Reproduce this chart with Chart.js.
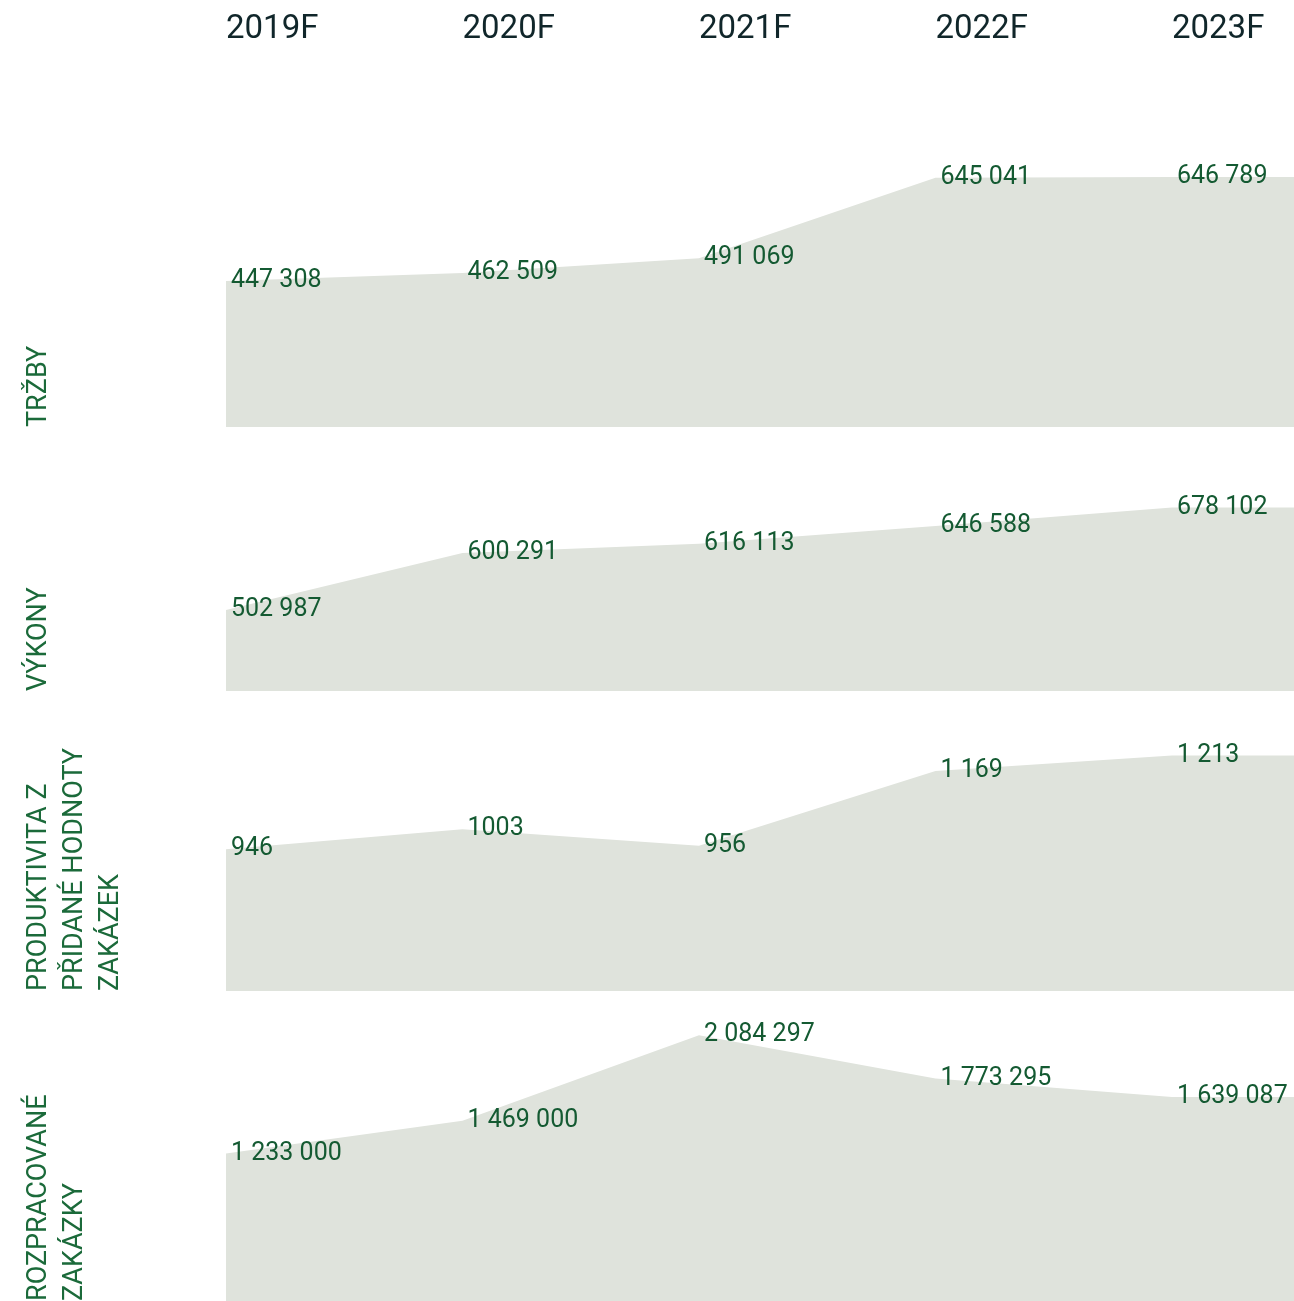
<!DOCTYPE html>
<html>
<head>
<meta charset="utf-8">
<script src="https://cdn.jsdelivr.net/npm/chart.js@4/dist/chart.umd.min.js"></script>
<style>
  html, body { margin: 0; padding: 0; background: #ffffff; }
  canvas { display: block; }
</style>
</head>
<body>
<canvas id="c" width="1294" height="1301"></canvas>
<script>
// ---- data ----
const years = ['2019F', '2020F', '2021F', '2022F', '2023F'];
const panelTitles = [
  ['TRŽBY'],
  ['VÝKONY'],
  ['PRODUKTIVITA Z', 'PŘIDANÉ HODNOTY', 'ZAKÁZEK'],
  ['ROZPRACOVANÉ', 'ZAKÁZKY']
];
const trzby = [447308, 462509, 491069, 645041, 646789];
const vykony = [502987, 600291, 616113, 646588, 678102];
const produktivita = [946, 1003, 956, 1169, 1213];
const rozpracovane = [1233000, 1469000, 2084297, 1773295, 1639087];

const trzbyLabels = ['447 308', '462 509', '491 069', '645 041', '646 789'];
const vykonyLabels = ['502 987', '600 291', '616 113', '646 588', '678 102'];
const produktivitaLabels = ['946', '1003', '956', '1 169', '1 213'];
const rozpracovaneLabels = ['1 233 000', '1 469 000', '2 084 297', '1 773 295', '1 639 087'];

const seriesList = [trzby, vykony, produktivita, rozpracovane];
const labelList = [trzbyLabels, vykonyLabels, produktivitaLabels, rozpracovaneLabels];

// ---- axis configuration ----
const X_END = 4.516;                       // area continues flat to the right edge
const yMins = [167500, 365000, 542, 171000];
const yMaxs = [897600, 815400, 1397, 2402800];
const panelWeights = [381, 264, 300, 310];

const FILL = '#dfe3dc';
const GREEN = '#145a32';
const TITLE_GREEN = '#1b6a3a';
const HEADER = '#10262a';

const datasets = seriesList.map((s, k) => ({
  data: s.map((v, i) => ({ x: i, y: v })).concat([{ x: X_END, y: s[s.length - 1] }]),
  yAxisID: 'y' + k,
  fill: 'start',
  backgroundColor: FILL,
  borderColor: 'rgba(0,0,0,0)',
  borderWidth: 0,
  pointRadius: 0,
  pointHoverRadius: 0,
  tension: 0
}));

function yScale(k) {
  return {
    type: 'linear',
    position: 'left',
    stack: 'panels',
    stackWeight: panelWeights[k],
    weight: 10 - k,
    min: yMins[k],
    max: yMaxs[k],
    grid: { display: false, drawTicks: false },
    border: { display: false },
    ticks: { display: false },
    title: {
      display: true,
      text: panelTitles[k],
      align: 'start',
      color: TITLE_GREEN,
      font: { family: 'Roboto', size: 27, lineHeight: 1.33 },
      padding: { top: 21, bottom: 0 }
    },
    afterFit: s => { s.width = 226; }
  };
}

const scales = {
  x: {
    type: 'linear',
    position: 'top',
    min: 0,
    max: X_END,
    grid: { display: false, drawTicks: false },
    border: { display: false },
    afterBuildTicks: s => { s.ticks = years.map((_, i) => ({ value: i })); },
    ticks: {
      align: 'start',
      padding: 0,
      maxRotation: 0,
      autoSkip: false,
      color: HEADER,
      font: { family: 'Roboto', size: 33, lineHeight: 1 },
      callback: v => years[v]
    }
  }
};
seriesList.forEach((_, k) => { scales['y' + k] = yScale(k); });

const pointLabels = {
  id: 'pointLabels',
  afterDatasetsDraw(chart) {
    const ctx = chart.ctx;
    ctx.save();
    ctx.font = '25px Roboto';
    ctx.fillStyle = GREEN;
    ctx.textAlign = 'left';
    ctx.textBaseline = 'middle';
    chart.data.datasets.forEach((ds, k) => {
      const meta = chart.getDatasetMeta(k);
      labelList[k].forEach((txt, i) => {
        const p = meta.data[i];
        ctx.fillText(txt, p.x + 5, p.y);
      });
    });
    ctx.restore();
  }
};

function draw() {
  new Chart(document.getElementById('c'), {
    type: 'line',
    data: { datasets },
    options: {
      responsive: false,
      animation: false,
      layout: { padding: { top: 13, left: 0, right: 0, bottom: 0 } },
      plugins: { legend: { display: false }, tooltip: { enabled: false } },
      events: [],
      scales
    },
    plugins: [pointLabels]
  });
}
if (document.fonts && document.fonts.load) {
  Promise.all([document.fonts.load('25px Roboto'), document.fonts.load('33px Roboto')]).then(draw, draw);
} else {
  draw();
}
</script>
</body>
</html>
